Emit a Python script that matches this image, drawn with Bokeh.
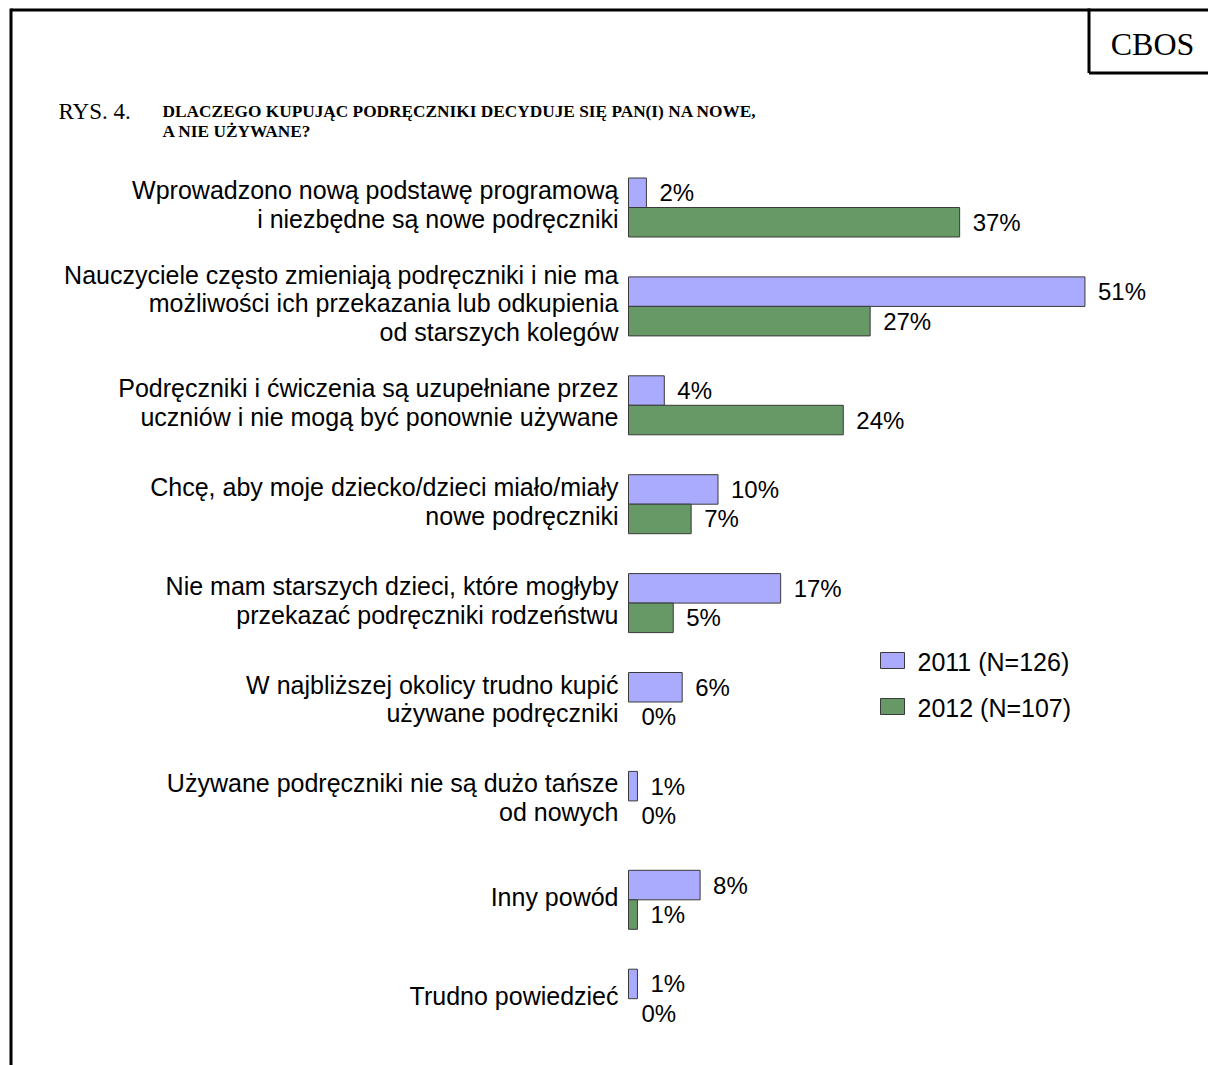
from bokeh.plotting import figure
from bokeh.models import Range1d, ColumnDataSource
from bokeh.transform import dodge
from bokeh.core.properties import value
from bokeh.embed import file_html
from bokeh.resources import INLINE

# ---- data ----
categories = [
    "Wprowadzono nową podstawę programową\ni niezbędne są nowe podręczniki",
    "Nauczyciele często zmieniają podręczniki i nie ma\nmożliwości ich przekazania lub odkupienia\nod starszych kolegów",
    "Podręczniki i ćwiczenia są uzupełniane przez\nuczniów i nie mogą być ponownie używane",
    "Chcę, aby moje dziecko/dzieci miało/miały\nnowe podręczniki",
    "Nie mam starszych dzieci, które mogłyby\nprzekazać podręczniki rodzeństwu",
    "W najbliższej okolicy trudno kupić\nużywane podręczniki",
    "Używane podręczniki nie są dużo tańsze\nod nowych",
    "Inny powód",
    "Trudno powiedzieć",
]
values_2011 = [2, 51, 4, 10, 17, 6, 1, 8, 1]
values_2012 = [37, 27, 24, 7, 5, 0, 0, 1, 0]
series_labels = ["2011 (N=126)", "2012 (N=107)"]
title_prefix = "RYS. 4."
title_lines = ["DLACZEGO KUPUJĄC PODRĘCZNIKI DECYDUJE SIĘ PAN(I) NA NOWE,", "A NIE UŻYWANE?"]
brand = "CBOS"

BLUE = "#aaaaff"
GREEN = "#669966"
EDGE = "#3a3a3a"

W, H = 1208, 1065
X0, SX = 628, 8.95      # px of 0 %, px per 1 %
Y0, SY = 207, 98.9      # px of first category centre, px per category

def dx(px):
    return (px - X0) / SX

def dy(py):
    return (py - Y0) / SY

p = figure(width=W, height=H,
           x_range=Range1d(-X0 / SX, (W - X0) / SX),
           y_range=Range1d((H - Y0) / SY, -Y0 / SY),
           output_backend="svg", toolbar_location=None, min_border=0,
           x_axis_location=None, y_axis_location=None)
p.grid.visible = False
p.outline_line_color = None
p.background_fill_color = "white"
p.border_fill_color = "white"

src = ColumnDataSource(dict(
    idx=list(range(len(categories))),
    lab=categories,
    v11=values_2011,
    v12=values_2012,
    t11=[f"{v}%" for v in values_2011],
    t12=[f"{v}%" for v in values_2012],
    a11=[0.0 if v == 0 else 1.0 for v in values_2011],
    a12=[0.0 if v == 0 else 1.0 for v in values_2012],
))

h = 29.5 / SY
p.hbar(y=dodge("idx", -h / 2), left=0, right="v11", height=h,
       fill_color=BLUE, line_color=EDGE, line_alpha="a11", line_width=1, source=src)
p.hbar(y=dodge("idx", h / 2), left=0, right="v12", height=h,
       fill_color=GREEN, line_color=EDGE, line_alpha="a12", line_width=1, source=src)

SANS = value("Liberation Sans")
SERIF = value("Liberation Serif")

p.text(x=0, y=dodge("idx", -3 / SY), text="lab", x_offset=-10, text_align="right",
       text_baseline="middle", text_font=SANS, text_font_size="25px",
       text_line_height=1.03, text_color="black", source=src)
p.text(x="v11", y=dodge("idx", -h / 2), text="t11", x_offset=13,
       text_baseline="middle", text_font=SANS, text_font_size="24px",
       text_color="black", source=src)
p.text(x="v12", y=dodge("idx", h / 2), text="t12", x_offset=13,
       text_baseline="middle", text_font=SANS, text_font_size="24px",
       text_color="black", source=src)

# legend
p.rect(x=[dx(892), dx(892)], y=[dy(660), dy(706)], width=24 / SX, height=16 / SY,
       fill_color=[BLUE, GREEN], line_color=EDGE, line_width=1)
p.text(x=[dx(917), dx(917)], y=[dy(661), dy(707)], text=series_labels,
       text_baseline="middle", text_font=SANS, text_font_size="25px", text_color="black")

# title
p.text(x=[dx(58)], y=[dy(111)], text=[title_prefix], text_baseline="alphabetic",
       text_font=SERIF, text_font_size="23px", text_color="black")
p.text(x=[dx(162), dx(162)], y=[dy(111), dy(131)], text=title_lines,
       text_baseline="alphabetic", text_font=SERIF, text_font_style="bold",
       text_font_size="17.3px", text_color="black")

# frame and CBOS box
p.segment(x0=[dx(10.5), dx(10.5), dx(1088.5), dx(1088.5)],
          y0=[dy(9.5), dy(8), dy(8), dy(72.5)],
          x1=[dx(1208), dx(10.5), dx(1088.5), dx(1208)],
          y1=[dy(9.5), dy(1065), dy(72.5), dy(72.5)],
          line_width=3, line_color="black")
p.text(x=[dx(1152)], y=[dy(43)], text=[brand], text_align="center",
       text_baseline="alphabetic", text_font=SERIF, text_font_size="32px",
       text_color="black")

open("out.html", "w").write(file_html(p, INLINE))
